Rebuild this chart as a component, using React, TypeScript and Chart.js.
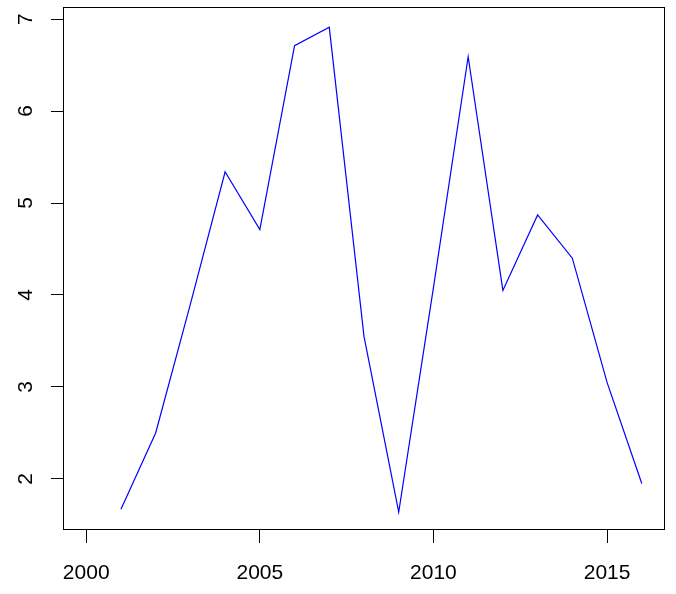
import React, { useEffect, useRef } from "react";
import { Chart, registerables } from "chart.js";

Chart.register(...registerables);

const years = [2001, 2002, 2003, 2004, 2005, 2006, 2007, 2008, 2009, 2010, 2011, 2012, 2013, 2014, 2015, 2016];
const values = [1.67, 2.5, 3.9, 5.34, 4.71, 6.71, 6.91, 3.55, 1.64, 4.08, 6.59, 4.05, 4.87, 4.4, 3.05, 1.95];
const xTicks = [2000, 2005, 2010, 2015];
const yTicks = [2, 3, 4, 5, 6, 7];
const xRange = [1999.36, 2016.64];
const yRange = [1.445, 7.12];

const FONT = "'Liberation Sans', Arial, Helvetica, sans-serif";

const boxPlugin = {
  id: "rbox",
  afterDraw(chart: any) {
    const { ctx, chartArea } = chart;
    ctx.save();
    ctx.strokeStyle = "#000";
    ctx.lineWidth = 1;
    ctx.strokeRect(chartArea.left - 0.5, chartArea.top - 0.5, chartArea.right - chartArea.left + 1, chartArea.bottom - chartArea.top);
    ctx.restore();
  },
};

export default function App() {
  const ref = useRef<HTMLCanvasElement>(null);

  useEffect(() => {
    document.body.style.margin = "0";
    if (!ref.current) return;
    const chart = new Chart(ref.current, {
      type: "line",
      data: {
        datasets: [
          {
            data: years.map((y, i) => ({ x: y, y: values[i] })),
            borderColor: "#0000ff",
            borderWidth: 1.2,
            pointRadius: 0,
            tension: 0,
            fill: false,
          },
        ],
      },
      options: {
        animation: false,
        responsive: false,
        maintainAspectRatio: false,
        devicePixelRatio: 1,
        layout: { padding: { top: 8, right: 12, left: 0, bottom: 0 } },
        plugins: { legend: { display: false }, tooltip: { enabled: false } },
        scales: {
          x: {
            type: "linear",
            min: xRange[0],
            max: xRange[1],
            afterBuildTicks: (axis: any) => {
              axis.ticks = xTicks.map((v) => ({ value: v }));
            },
            afterFit: (scale: any) => {
              scale.height = 64;
              scale.paddingLeft = 0;
              scale.paddingRight = 0;
              scale.paddingTop = 0;
              scale.paddingBottom = 0;
            },
            border: { display: false },
            grid: {
              drawOnChartArea: false,
              drawTicks: true,
              tickLength: 13,
              color: "#000",
              tickColor: "#000",
              tickWidth: 1,
            },
            ticks: {
              autoSkip: false,
              maxRotation: 0,
              minRotation: 0,
              padding: 18,
              color: "#000",
              font: { family: FONT, size: 21 },
              callback: (v: any) => String(v),
            },
          },
          y: {
            type: "linear",
            min: yRange[0],
            max: yRange[1],
            afterBuildTicks: (axis: any) => {
              axis.ticks = yTicks.map((v) => ({ value: v }));
            },
            afterFit: (scale: any) => {
              scale.width = 64;
              scale.paddingLeft = 0;
              scale.paddingRight = 0;
              scale.paddingTop = 0;
              scale.paddingBottom = 0;
            },
            border: { display: false },
            grid: {
              drawOnChartArea: false,
              drawTicks: true,
              tickLength: 13,
              color: "#000",
              tickColor: "#000",
              tickWidth: 1,
            },
            ticks: {
              autoSkip: false,
              minRotation: 90,
              maxRotation: 90,
              crossAlign: "center",
              padding: 19,
              color: "#000",
              font: { family: FONT, size: 21 },
              callback: (v: any) => String(v),
            },
          },
        },
      },
      plugins: [boxPlugin],
    } as any);
    return () => chart.destroy();
  }, []);

  return (
    <div style={{ position: "absolute", left: 0, top: 0, width: 676, height: 594, background: "#fff" }}>
      <canvas ref={ref} width={676} height={594} style={{ display: "block", width: 676, height: 594 }} />
    </div>
  );
}
